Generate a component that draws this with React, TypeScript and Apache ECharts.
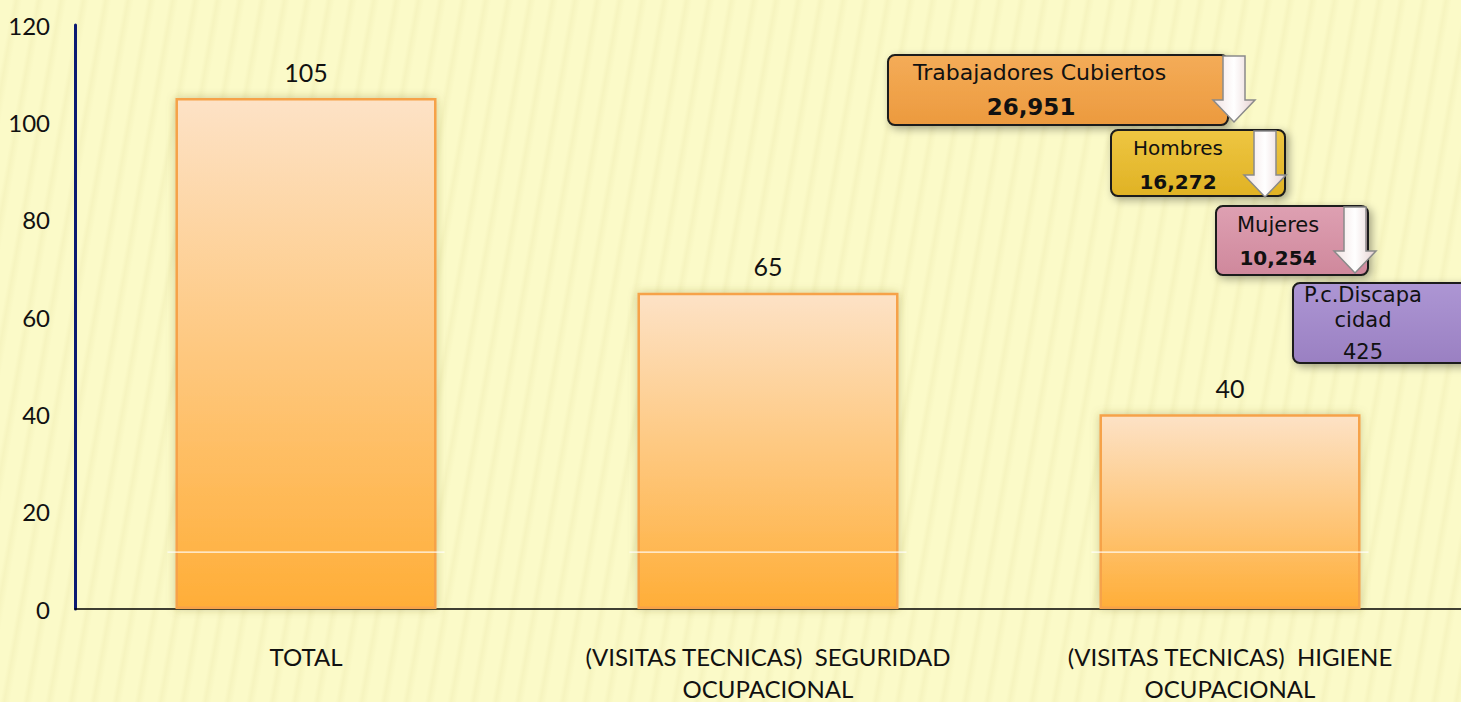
import React, { useEffect, useRef } from "react";
import * as echarts from "echarts";

const categories = ["TOTAL", "(VISITAS TECNICAS)  SEGURIDAD\nOCUPACIONAL", "(VISITAS TECNICAS)  HIGIENE\nOCUPACIONAL"];
const visitas = [105, 65, 40];
const yTicks = [0, 20, 40, 60, 80, 100, 120];
const highlightLevel = 11.7;

const calloutLabels = ["Trabajadores Cubiertos", "Hombres", "Mujeres", "P.c.Discapa\ncidad"];
const calloutValues = ["26,951", "16,272", "10,254", "425"];

const FONT = "Lato";
const CFONT = "DejaVu Sans";

function grad(c1: string, c2: string) {
  return new echarts.graphic.LinearGradient(0, 0, 0, 1, [
    { offset: 0, color: c1 },
    { offset: 1, color: c2 },
  ]);
}

function arrow(x: number, top: number, bottom: number) {
  const sw = 11;
  const hw = 21;
  const headTop = bottom - 22;
  return {
    type: "polygon",
    z: 20,
    shape: {
      points: [
        [x - sw, top],
        [x + sw, top],
        [x + sw, headTop],
        [x + hw, headTop],
        [x, bottom],
        [x - hw, headTop],
        [x - sw, headTop],
      ],
    },
    style: {
      fill: new echarts.graphic.LinearGradient(0, 0, 1, 0, [
        { offset: 0, color: "#f2e2e2" },
        { offset: 0.5, color: "#ffffff" },
        { offset: 1, color: "#e6d0d0" },
      ]),
      stroke: "#8a8a8a",
      lineWidth: 1.5,
    },
  };
}

function box(x: number, y: number, w: number, h: number, c1: string, c2: string) {
  return {
    type: "rect",
    z: 10,
    shape: { x, y, width: w, height: h, r: 7 },
    style: {
      fill: grad(c1, c2),
      stroke: "#1a1a1a",
      lineWidth: 2,
      shadowBlur: 8,
      shadowColor: "rgba(0,0,0,0.35)",
      shadowOffsetX: 3,
      shadowOffsetY: 3,
    },
  };
}

function txt(x: number, y: number, text: string, size: number, bold: boolean, align: string = "left") {
  return {
    type: "text",
    z: 30,
    x,
    y,
    style: {
      text,
      fill: "#111",
      fontFamily: CFONT,
      fontSize: size,
      fontWeight: bold ? "bold" : "normal",
      align,
      verticalAlign: "middle",
      lineHeight: 25,
    },
  };
}

export default function App() {
  const ref = useRef<HTMLDivElement>(null);
  useEffect(() => {
    if (!ref.current) return;
    const chart = echarts.init(ref.current, null, { renderer: "svg" });
    chart.setOption({
      animation: false,
      backgroundColor: "transparent",
      grid: { left: 75, right: 0, top: 25, bottom: 93, outerBoundsMode: "none", containLabel: false },
      xAxis: {
        type: "category",
        data: categories,
        axisLine: { lineStyle: { color: "#000", width: 1.5 } },
        axisTick: { show: false },
        axisLabel: {
          color: "#111",
          fontFamily: FONT,
          fontSize: 24,
          margin: 31,
          lineHeight: 32,
          interval: 0,
        },
      },
      yAxis: {
        type: "value",
        min: yTicks[0],
        max: yTicks[yTicks.length - 1],
        interval: 20,
        axisLine: { show: true, lineStyle: { color: "#0b1a72", width: 3 } },
        axisTick: { show: false },
        splitLine: { show: false },
        axisLabel: { color: "#111", fontFamily: FONT, fontSize: 24, margin: 25 },
      },
      series: [
        {
          type: "bar",
          data: visitas,
          barWidth: "56.5%",
          itemStyle: {
            color: grad("#fde2c6", "#ffae38"),
            borderColor: "#f6a248",
            borderWidth: 2.5,
            shadowBlur: 10,
            shadowColor: "rgba(120,110,40,0.35)",
          },
          label: {
            show: true,
            position: "top",
            distance: 14,
            color: "#111",
            fontFamily: FONT,
            fontSize: 25,
          },
        },
        {
          type: "custom",
          data: categories.map((_, i) => [i, highlightLevel]),
          z: 5,
          silent: true,
          renderItem: (params: any, api: any) => {
            const p = api.coord([api.value(0), api.value(1)]);
            const band = api.size([1, 0])[0];
            const half = (band * 0.565) / 2 + 8;
            return {
              type: "line",
              shape: { x1: p[0] - half, y1: p[1], x2: p[0] + half, y2: p[1] },
              style: { stroke: "rgba(255,255,255,0.9)", lineWidth: 1.2 },
            };
          },
        },
      ],
      graphic: [
        box(888, 55, 340, 70, "#f4ac58", "#ec9a3e"),
        arrow(1234, 56, 122),
        txt(913, 72, calloutLabels[0], 22, false),
        txt(1031, 107, calloutValues[0], 23, true, "center"),

        box(1111, 130, 174, 66, "#eec642", "#e0b224"),
        arrow(1265, 131, 197),
        txt(1133, 148, calloutLabels[1], 20, false),
        txt(1178, 182, calloutValues[1], 20, true, "center"),

        box(1216, 206, 152, 69, "#dea0b2", "#cf889c"),
        arrow(1355, 207, 273),
        txt(1237, 225, calloutLabels[2], 21, false),
        txt(1278, 258, calloutValues[2], 20, true, "center"),

        box(1293, 283, 180, 80, "#ad96d4", "#9a80c2"),
        txt(1363, 307, calloutLabels[3], 21, false, "center"),
        txt(1363, 352, calloutValues[3], 21, false, "center"),
      ],
    });
    return () => chart.dispose();
  }, []);
  return (
    <div
      ref={ref}
      style={{
        position: "fixed",
        left: 0,
        top: 0,
        width: 1461,
        height: 702,
        background:
          "repeating-linear-gradient(100deg, #fbfac8 0px, #fbfac8 12px, #f6f4bf 16px, #fbfac8 22px)",
      }}
    />
  );
}
